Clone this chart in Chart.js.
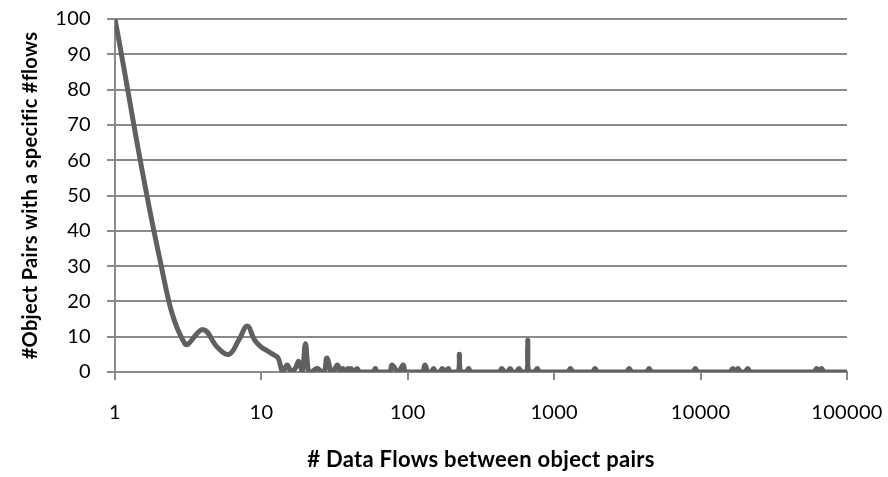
<!DOCTYPE html>
<html>
<head>
<meta charset="utf-8">
<script src="https://cdn.jsdelivr.net/npm/chart.js@4"></script>
<style>
  html, body { margin: 0; padding: 0; background: #fff; }
  #wrap { width: 888px; height: 477px; }
</style>
</head>
<body>
<div id="wrap"><canvas id="myChart" width="888" height="477"></canvas></div>
<script>
// number of data flows between an object pair (x) and how many pairs have it (y)
var flows = [1, 2, 3, 4, 5, 6, 7, 8, 9, 10, 11, 12, 13, 14, 15, 16, 17, 18, 19, 20,
    21, 22, 24, 26, 27, 28, 30, 31, 33, 35, 36, 37, 39, 40, 41, 43, 45, 47,
    58, 60, 62, 75, 78, 86, 93, 97, 125, 131, 137, 145, 150, 155, 165, 172, 180, 189, 195,
    220, 225, 230, 250, 260, 270, 420, 438, 458, 480, 500, 520, 550, 575, 600,
    650, 660, 670, 735, 765, 795, 1230, 1290, 1350, 1810, 1900, 1990,
    3100, 3250, 3400, 4250, 4450, 4650, 8800, 9200, 9600,
    15800, 16600, 17300, 18000, 18800, 20100, 21000, 22000,
    59000, 62000, 64500, 67000, 70000, 100000];
var pairs = [100, 33, 8, 12, 7, 5, 9, 13, 9, 7, 6, 5, 4, 0, 2, 0, 1, 3, 0, 8,
    0, 0, 1, 0, 0, 4, 0, 0, 2, 0, 1, 0, 1, 0, 1, 0, 1, 0,
    0, 1, 0, 0, 2, 0, 2, 0, 0, 2, 0, 0, 1, 0, 0, 1, 0, 1, 0,
    0, 5, 0, 0, 1, 0, 0, 1, 0, 0, 1, 0, 0, 1, 0,
    0, 9, 0, 0, 1, 0, 0, 1, 0, 0, 1, 0,
    0, 1, 0, 0, 1, 0, 0, 1, 0,
    0, 1, 0, 1, 0, 0, 1, 0,
    0, 1, 0, 1, 0, 0];
var xTicks = [1, 10, 100, 1000, 10000, 100000];
var yTicks = [0, 10, 20, 30, 40, 50, 60, 70, 80, 90, 100];

var points = flows.map(function (f, i) { return {x: f, y: pairs[i]}; });
var gridGray = '#8a8a8a';
var font = 'Lato, "Liberation Sans", sans-serif';

// a tiny letter spacing keeps "fi" from turning into a ligature
var noLigatures = {
    id: 'noLigatures',
    beforeDraw: function (chart) {
        if ('letterSpacing' in chart.ctx) chart.ctx.letterSpacing = '0.3px';
    }
};

var ctx = document.getElementById("myChart");
var myChart = new Chart(ctx, {
    type: 'scatter',
    data: {
        datasets: [{
            label: "pairs",
            data: points,
            showLine: true,
            borderColor: "#606060",
            borderWidth: 5,
            pointRadius: 0,
            tension: 0.4,
            fill: false
        }]
    },
    plugins: [noLigatures],
    options: {
        responsive: false,
        animation: false,
        layout: {padding: {left: 0, right: 41, top: 19, bottom: 0}},
        plugins: {
            legend: {display: false},
            tooltip: {enabled: false}
        },
        scales: {
            x: {
                type: 'logarithmic',
                min: 1,
                max: 100000,
                afterBuildTicks: function (scale) {
                    scale.ticks = xTicks.map(function (v) { return {value: v}; });
                },
                afterFit: function (scale) {
                    scale.height = 105;
                    scale.paddingLeft = 0;
                    scale.paddingRight = 0;
                },
                ticks: {
                    color: '#000',
                    padding: 21,
                    maxRotation: 0,
                    autoSkip: false,
                    font: {family: font, size: 20},
                    callback: function (v) { return String(v); }
                },
                grid: {
                    drawOnChartArea: false,
                    color: gridGray,
                    lineWidth: 2,
                    tickLength: 8
                },
                border: {color: gridGray, width: 2},
                title: {
                    display: true,
                    text: '# Data Flows between object pairs',
                    color: '#000',
                    font: {family: font, size: 22, weight: 'bold'},
                    padding: {top: 0, bottom: 4}
                }
            },
            y: {
                min: 0,
                max: 100,
                afterBuildTicks: function (scale) {
                    scale.ticks = yTicks.map(function (v) { return {value: v}; });
                },
                afterFit: function (scale) {
                    scale.width = 115;
                    scale.paddingTop = 0;
                    scale.paddingBottom = 0;
                },
                ticks: {
                    color: '#000',
                    padding: 16,
                    font: {family: font, size: 20}
                },
                grid: {
                    color: gridGray,
                    lineWidth: 2,
                    tickLength: 8
                },
                border: {color: gridGray, width: 2},
                title: {
                    display: true,
                    text: '#Object Pairs with a specific #flows',
                    color: '#000',
                    font: {family: font, size: 20, weight: 'bold'},
                    padding: {top: 19, bottom: 0}
                }
            }
        }
    }
});
</script>
</body>
</html>
